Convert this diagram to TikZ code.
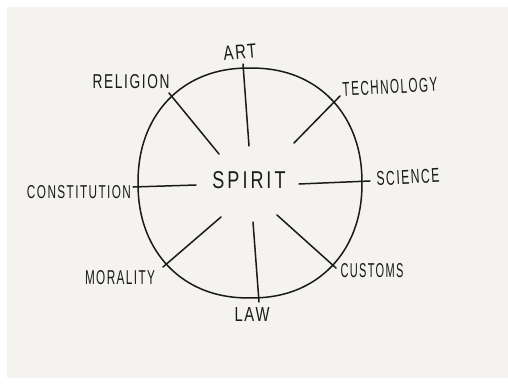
\documentclass[tikz,border=0pt]{standalone}
\usepackage{fontspec}
\setmainfont{Liberation Sans}[LetterSpace=12]
\usepackage{graphicx}
\definecolor{panel}{HTML}{F4F3F0}
\definecolor{ink}{HTML}{1A1A1A}
\newcommand{\lbl}[3]{\resizebox{#1pt}{#2pt}{#3}}
\begin{document}
\begin{tikzpicture}[x=1pt,y=-1pt,
  spoke/.style={draw=ink,line width=1.5pt,line cap=round},
  word/.style={inner sep=0pt,text=ink}]
\useasboundingbox (0,0) rectangle (508,385);
\fill[white] (0,0) rectangle (508,385);
\fill[panel] (7,7) rectangle (508,378);
% rounded outline (slightly squarish, hand drawn)
\draw[ink,line width=1.5pt] plot[smooth cycle,domain=2.5:357.5,samples=72,variable=\t]
 ({250+112*cos(\t)*pow(abs(cos(\t)),-0.09)},{183-115*sin(\t)*pow(abs(sin(\t)),-0.07)});
% spoke ends
\coordinate (artI) at (249,146); \coordinate (artO) at (243,64);
\coordinate (relI) at (219,154); \coordinate (relO) at (169,93);
\coordinate (tecI) at (294,143); \coordinate (tecO) at (340,96);
\coordinate (sciI) at (299,184); \coordinate (sciO) at (370,181);
\coordinate (conI) at (196,185); \coordinate (conO) at (133,187);
\coordinate (morI) at (221,217); \coordinate (morO) at (163,267);
\coordinate (lawI) at (253,222); \coordinate (lawO) at (259,302);
\coordinate (cusI) at (277,215); \coordinate (cusO) at (336,268);
\draw[spoke] (artI) -- (artO);
\draw[spoke] (relI) -- (relO);
\draw[spoke] (tecI) -- (tecO);
\draw[spoke] (sciI) -- (sciO);
\draw[spoke] (conI) -- (conO);
\draw[spoke] (morI) -- (morO);
\draw[spoke] (lawI) -- (lawO);
\draw[spoke] (cusI) -- (cusO);
% labels
\node[word] (spirit) at (249,180) {\lbl{73}{17}{S\,P\,I\,R\,I\,T}};
\node[word,rotate=5] (art) at (240,52) {\lbl{33}{14}{ART}};
\node[word] (religion) at (131,82) {\lbl{77}{14}{RELIGION}};
\node[word,rotate=3] (technology) at (390,87) {\lbl{95}{14}{TECHNOLOGY}};
\node[word,rotate=3] (science) at (408,177) {\lbl{63}{14}{SCIENCE}};
\node[word] (constitution) at (79,192) {\lbl{104}{13}{CONSTITUTION}};
\node[word] (morality) at (120,278) {\lbl{70}{14}{MORALITY}};
\node[word] (law) at (252,314) {\lbl{35}{14}{LAW}};
\node[word] (customs) at (372,271) {\lbl{63}{14}{CUSTOMS}};
\end{tikzpicture}
\end{document}
